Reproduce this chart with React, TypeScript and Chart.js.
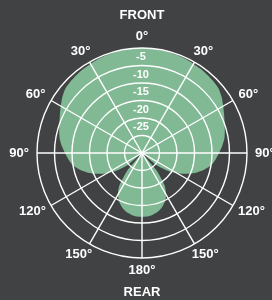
import React, { useEffect, useRef } from 'react';
import { Chart, registerables } from 'chart.js';

Chart.register(...registerables);

// Angle categories (degrees, clockwise from the front)
const categories = [
  0, 5, 10, 15, 20, 25, 30, 35, 40, 45, 50, 55,
  60, 65, 70, 75, 80, 85, 90, 95, 100, 105, 110, 115,
  120, 125, 130, 135, 140, 145, 150, 155, 160, 165, 170, 175,
  180, 185, 190, 195, 200, 205, 210, 215, 220, 225, 230, 235,
  240, 245, 250, 255, 260, 265, 270, 275, 280, 285, 290, 295,
  300, 305, 310, 315, 320, 325, 330, 335, 340, 345, 350, 355,
];

// Sensitivity (dB)
const sensitivity = [
  0, 0, -0.1, -0.2, -0.3, -0.4, -0.6, -0.7, -0.9, -1.1, -1.4, -2.2,
  -3.2, -4.1, -4.9, -5.5, -6.1, -7.0, -8.0, -8.9, -9.9, -11.6, -13.6, -15.9,
  -18.4, -21.3, -24.5, -30, -23.5, -18.8, -16.2, -14.6, -13.4, -12.6, -12.1, -11.8,
  -11.8, -11.8, -12.1, -12.6, -13.4, -14.6, -16.2, -18.8, -23.5, -30, -24.5, -21.3,
  -18.4, -15.9, -13.6, -11.6, -9.9, -8.9, -8.0, -7.0, -6.1, -5.5, -4.9, -4.1,
  -3.2, -2.2, -1.4, -1.1, -0.9, -0.7, -0.6, -0.4, -0.3, -0.2, -0.1, 0,
];

// Radial tick labels (dB)
const radialTicks = [-5, -10, -15, -20, -25];

// Angle tick positions and their labels
const angleTickAt = [0, 30, 60, 90, 120, 150, 180, 210, 240, 270, 300, 330];
const angleTickLabels = ['0°', '30°', '60°', '90°', '120°', '150°', '180°', '150°', '120°', '90°', '60°', '30°'];

const topTitle = 'FRONT';
const bottomTitle = 'REAR';

const BG = '#414244';
const GREEN = '#80b994';
const FONT = '"Liberation Sans", Arial, Helvetica, sans-serif';

const labelPlugin = {
  id: 'polarLabels',
  afterDraw(chart: any) {
    const scale = chart.scales.r;
    const ctx = chart.ctx;
    const R = scale.drawingArea;
    ctx.save();
    ctx.fillStyle = '#ffffff';
    ctx.textAlign = 'center';
    ctx.textBaseline = 'middle';

    ctx.font = `bold 11px ${FONT}`;
    radialTicks.forEach((v) => {
      const p = scale.getPointPositionForValue(0, v + 2.3);
      ctx.fillText(String(v), p.x - 1, p.y);
    });

    ctx.font = `bold 13px ${FONT}`;
    angleTickAt.forEach((deg, k) => {
      const idx = categories.indexOf(deg);
      const text = angleTickLabels[k];
      const p = scale.getPointPosition(idx, R + 8);
      const w = ctx.measureText(text).width;
      const cx = p.x + Math.cos(p.angle) * w / 2;
      const cy = p.y + Math.sin(p.angle) * 4;
      ctx.fillText(text, cx, cy);
    });

    ctx.fillText(topTitle, scale.xCenter, 15);
    ctx.fillText(bottomTitle, scale.xCenter, 292);
    ctx.restore();
  },
};

export default function App() {
  const ref = useRef<HTMLCanvasElement | null>(null);

  useEffect(() => {
    document.documentElement.style.background = BG;
    document.body.style.margin = '0';
    document.body.style.background = BG;
    if (!ref.current) return;
    const chart = new Chart(ref.current, {
      type: 'radar',
      data: {
        labels: categories.map((c) => `${c}°`),
        datasets: [
          {
            data: sensitivity,
            backgroundColor: GREEN,
            borderWidth: 0,
            borderColor: GREEN,
            pointRadius: 0,
            pointHoverRadius: 0,
            fill: 'start',
            tension: 0.2,
          },
        ],
      },
      options: {
        responsive: false,
        animation: false,
        events: [],
        layout: { padding: { left: 36.5, right: 24.5, top: 47.5, bottom: 41.5 } },
        plugins: {
          legend: { display: false },
          tooltip: { enabled: false },
          title: { display: false },
        },
        scales: {
          r: {
            min: -30,
            max: 0,
            ticks: { stepSize: 5, display: false },
            pointLabels: { display: false },
            grid: {
              circular: true,
              color: '#ffffff',
              lineWidth: 1.4,
              z: 1,
            },
            angleLines: {
              display: true,
              color: (ctx: any) => (ctx.index % 6 === 0 && ctx.index !== 0 ? '#ffffff' : 'rgba(0,0,0,0)'),
              lineWidth: (ctx: any) => (ctx.index % 6 === 0 && ctx.index !== 0 ? 1.4 : 0),
            },
          },
        },
      },
      plugins: [labelPlugin],
    });
    return () => chart.destroy();
  }, []);

  return (
    <div style={{ width: 272, height: 300, background: BG }}>
      <canvas ref={ref} width={272} height={300} style={{ display: 'block' }} />
    </div>
  );
}
